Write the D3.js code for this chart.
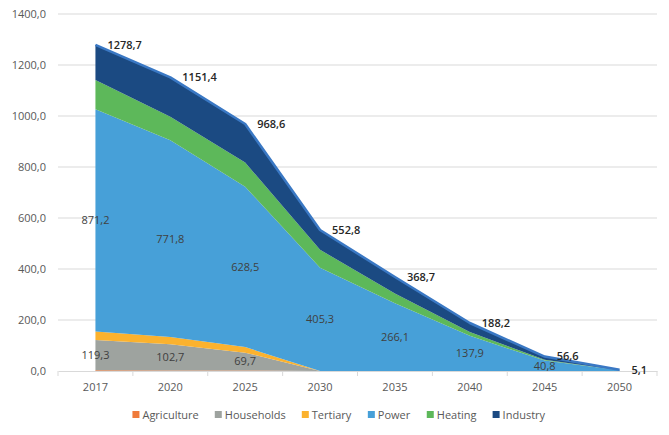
<!DOCTYPE html>
<html>
<head>
<meta charset="utf-8">
<script src="https://cdn.jsdelivr.net/npm/d3@7"></script>
<style>
  body { margin: 0; background: #fff; }
  text { font-family: "Open Sans", sans-serif; }
</style>
</head>
<body>
<svg id="chart" width="669" height="435"></svg>
<script>
// Data
const years = ["2017", "2020", "2025", "2030", "2035", "2040", "2045", "2050"];
const agriculture = [2.5, 2.4, 2.0, 0, 0, 0, 0, 0];
const households = [119.3, 102.7, 69.7, 0, 0, 0, 0, 0];
const tertiary = [33.0, 28.0, 22.0, 0, 0, 0, 0, 0];
const power = [871.2, 771.8, 628.5, 405.3, 266.1, 137.9, 40.8, 3.0];
const heating = [115.0, 92.0, 95.0, 70.0, 38.0, 15.0, 3.0, 0];
const industry = [137.7, 154.5, 151.4, 77.5, 64.6, 35.3, 12.8, 2.1];
const totals = [1278.7, 1151.4, 968.6, 552.8, 368.7, 188.2, 56.6, 5.1];
const yTicks = [0, 200, 400, 600, 800, 1000, 1200, 1400];

const seriesNames = ["Agriculture", "Households", "Tertiary", "Power", "Heating", "Industry"];
const seriesValues = [agriculture, households, tertiary, power, heating, industry];
const colors = ["#ef7b3b", "#9ea39f", "#fbb22e", "#47a0d8", "#5db85a", "#1b4a82"];

const svg = d3.select("#chart");
const fmt = v => d3.format(".1f")(v).replace(".", ",");

// table for the stack
const rows = years.map((y, i) => {
  const r = { year: y };
  seriesNames.forEach((n, k) => r[n] = seriesValues[k][i]);
  return r;
});
const stacked = d3.stack().keys(seriesNames)(rows);

// scales
const x = d3.scaleBand().domain(years).range([58, 657]);
const cx = y => x(y) + x.bandwidth() / 2;
const yScale = d3.scaleLinear().domain([0, 1400]).range([371, 14]);

// gridlines
svg.append("g").selectAll("line")
  .data(yTicks.slice(1))
  .join("line")
  .attr("x1", 58).attr("x2", 657)
  .attr("y1", d => yScale(d)).attr("y2", d => yScale(d))
  .attr("stroke", "#d9d9d9").attr("stroke-width", 1);

// y labels
svg.append("g").selectAll("text")
  .data(yTicks)
  .join("text")
  .attr("x", 46).attr("y", d => yScale(d))
  .attr("dy", "0.35em")
  .attr("text-anchor", "end")
  .attr("font-size", 11)
  .attr("fill", "#595959")
  .text(d => fmt(d));

// areas
const area = d3.area()
  .x(d => cx(d.data.year))
  .y0(d => yScale(d[0]))
  .y1(d => yScale(d[1]));

svg.append("g").selectAll("path")
  .data(stacked)
  .join("path")
  .attr("d", area)
  .attr("fill", (d, i) => colors[i]);

// total line
const line = d3.line().x((d, i) => cx(years[i])).y(d => yScale(d));
svg.append("path")
  .attr("d", line(totals))
  .attr("fill", "none")
  .attr("stroke", "#3a78c4")
  .attr("stroke-width", 2.5)
  .attr("stroke-linejoin", "round");

// x axis
const xAxis = d3.axisBottom(x).tickSize(0).tickPadding(12);
const gx = svg.append("g")
  .attr("transform", "translate(0," + yScale(0) + ")")
  .call(xAxis);
gx.select(".domain").attr("stroke", "#d9d9d9");
gx.selectAll("text").attr("font-size", 11).attr("fill", "#595959")
  .attr("font-family", "Open Sans, sans-serif");
// boundary ticks between categories
svg.append("g").selectAll("line")
  .data(years.concat(["end"]))
  .join("line")
  .attr("x1", (d, i) => 58 + i * x.step()).attr("x2", (d, i) => 58 + i * x.step())
  .attr("y1", yScale(0)).attr("y2", yScale(0) + 5)
  .attr("stroke", "#d9d9d9");

// labels inside power band
const powerLayer = stacked[3];
svg.append("g").selectAll("text")
  .data(powerLayer.filter((d, i) => i < 7))
  .join("text")
  .attr("x", d => cx(d.data.year))
  .attr("y", d => (yScale(d[0]) + yScale(d[1])) / 2)
  .attr("dy", "0.35em")
  .attr("text-anchor", "middle")
  .attr("font-size", 11)
  .attr("fill", "#404040")
  .text(d => fmt(d.data.Power));

// labels inside households band
const hhLayer = stacked[1];
svg.append("g").selectAll("text")
  .data(hhLayer.filter((d, i) => i < 3))
  .join("text")
  .attr("x", d => cx(d.data.year))
  .attr("y", d => (yScale(d[0]) + yScale(d[1])) / 2)
  .attr("dy", "0.35em")
  .attr("text-anchor", "middle")
  .attr("font-size", 11)
  .attr("fill", "#404040")
  .text(d => fmt(d.data.Households));

// total labels, right of the points
svg.append("g").selectAll("text")
  .data(totals)
  .join("text")
  .attr("x", (d, i) => cx(years[i]) + 12)
  .attr("y", d => yScale(d))
  .attr("dy", "0.35em")
  .attr("font-size", 11)
  .attr("font-weight", 600)
  .attr("fill", "#262626")
  .text(d => fmt(d));

// legend
const legend = svg.append("g").attr("transform", "translate(0,415)");
const items = legend.selectAll("g")
  .data(seriesNames)
  .join("g");
items.append("rect")
  .attr("width", 7).attr("height", 7).attr("y", -4)
  .attr("fill", (d, i) => colors[i]);
items.append("text")
  .attr("x", 10).attr("dy", "0.35em")
  .attr("font-size", 11)
  .attr("fill", "#595959")
  .text(d => d);
let widths = [];
items.each(function () { widths.push(this.getBBox().width); });
const gap = 16;
const total = d3.sum(widths) + gap * (widths.length - 1);
let pos = 339 - total / 2;
items.attr("transform", (d, i) => {
  const t = "translate(" + pos + ",0)";
  pos += widths[i] + gap;
  return t;
});
</script>
</body>
</html>
